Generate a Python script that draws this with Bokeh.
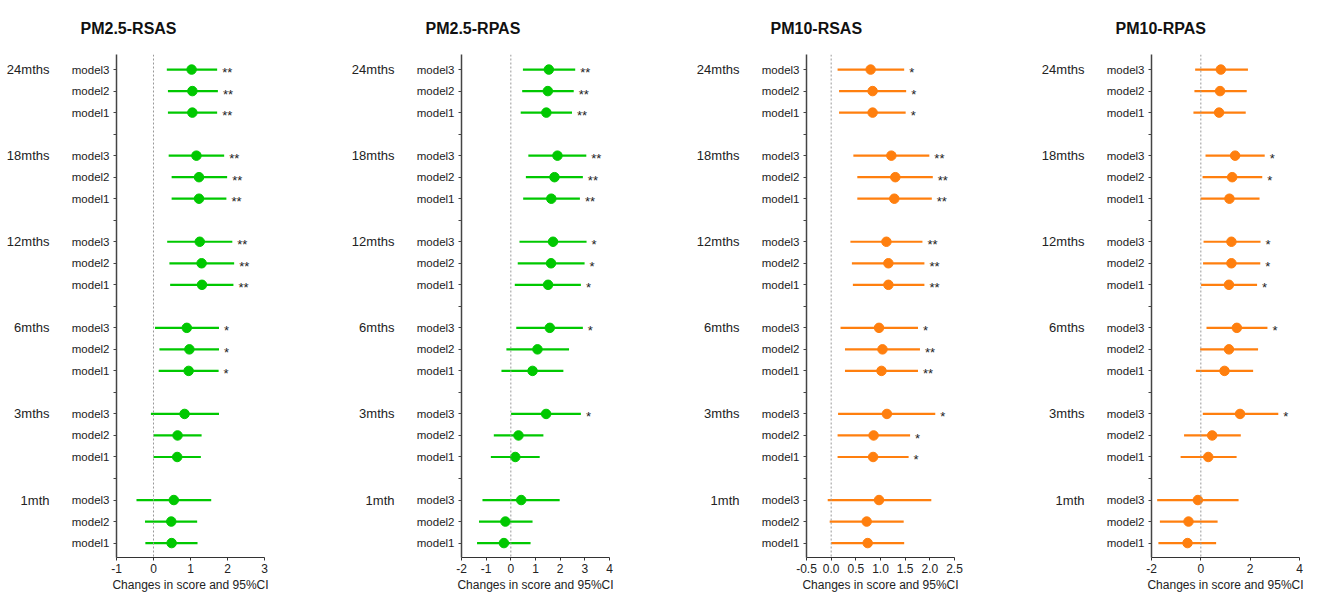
from bokeh.plotting import figure
from bokeh.layouts import row
from bokeh.models import FixedTicker, LinearAxis, Span, ColumnDataSource, Range1d
from bokeh.embed import file_html
from bokeh.resources import INLINE
from bokeh.core.properties import value

FONT = "Liberation Sans"

groups = ["1mth", "3mths", "6mths", "12mths", "18mths", "24mths"]
models = ["model1", "model2", "model3"]

titles = ["PM2.5-RSAS", "PM2.5-RPAS", "PM10-RSAS", "PM10-RPAS"]
colors = ["#00C800", "#00C800", "#FF7F0E", "#FF7F0E"]

# order: 1mth (model1, model2, model3), 3mths (...), ..., 24mths (...)
est_pm25_rsas = [0.49, 0.48, 0.55, 0.64, 0.65, 0.84, 0.95, 0.97, 0.90,
                 1.31, 1.30, 1.25, 1.23, 1.23, 1.16, 1.05, 1.05, 1.03]
lo_pm25_rsas = [-0.22, -0.23, -0.46, 0.00, 0.00, -0.07, 0.14, 0.16, 0.04,
                0.45, 0.43, 0.37, 0.49, 0.49, 0.41, 0.39, 0.39, 0.36]
hi_pm25_rsas = [1.19, 1.18, 1.56, 1.28, 1.30, 1.77, 1.76, 1.77, 1.77,
                2.16, 2.18, 2.13, 1.97, 1.99, 1.91, 1.72, 1.74, 1.72]
sig_pm25_rsas = ["", "", "", "", "", "", "*", "*", "*",
                 "**", "**", "**", "**", "**", "**", "**", "**", "**"]

est_pm25_rpas = [-0.28, -0.22, 0.42, 0.18, 0.31, 1.43, 0.88, 1.08, 1.58,
                 1.51, 1.63, 1.71, 1.64, 1.77, 1.89, 1.44, 1.50, 1.54]
lo_pm25_rpas = [-1.37, -1.29, -1.15, -0.81, -0.69, 0.01, -0.38, -0.18, 0.22,
                0.16, 0.28, 0.35, 0.50, 0.61, 0.71, 0.40, 0.46, 0.49]
hi_pm25_rpas = [0.80, 0.88, 1.98, 1.17, 1.32, 2.84, 2.13, 2.36, 2.92,
                2.84, 2.99, 3.07, 2.80, 2.92, 3.06, 2.48, 2.55, 2.61]
sig_pm25_rpas = ["", "", "", "", "", "*", "", "", "*",
                 "*", "*", "*", "**", "**", "**", "**", "**", "**"]

est_pm10_rsas = [0.74, 0.72, 0.97, 0.85, 0.86, 1.13, 1.02, 1.04, 0.97,
                 1.16, 1.16, 1.12, 1.28, 1.30, 1.22, 0.84, 0.84, 0.80]
lo_pm10_rsas = [0.00, -0.03, -0.07, 0.13, 0.13, 0.14, 0.28, 0.28, 0.19,
                0.44, 0.42, 0.39, 0.53, 0.53, 0.45, 0.16, 0.16, 0.13]
hi_pm10_rsas = [1.48, 1.47, 2.03, 1.57, 1.60, 2.11, 1.76, 1.80, 1.76,
                1.89, 1.89, 1.85, 2.04, 2.06, 1.99, 1.51, 1.52, 1.48]
sig_pm10_rsas = ["", "", "", "*", "*", "*", "**", "**", "*",
                 "**", "**", "**", "**", "**", "**", "*", "*", "*"]

est_pm10_rpas = [-0.54, -0.50, -0.12, 0.30, 0.46, 1.59, 0.96, 1.14, 1.46,
                 1.14, 1.24, 1.24, 1.16, 1.27, 1.39, 0.74, 0.78, 0.81]
lo_pm10_rpas = [-1.72, -1.66, -1.77, -0.82, -0.68, 0.08, -0.20, -0.03, 0.23,
                0.01, 0.09, 0.11, -0.01, 0.07, 0.19, -0.30, -0.26, -0.23]
hi_pm10_rpas = [0.62, 0.68, 1.53, 1.45, 1.62, 3.14, 2.12, 2.32, 2.70,
                2.28, 2.41, 2.42, 2.38, 2.49, 2.59, 1.82, 1.86, 1.91]
sig_pm10_rpas = ["", "", "", "", "", "*", "", "", "*",
                 "*", "*", "*", "", "*", "*", "", "", ""]

x_ticks = [[-1, 0, 1, 2, 3],
           [-2, -1, 0, 1, 2, 3, 4],
           [-0.5, 0, 0.5, 1, 1.5, 2, 2.5],
           [-2, 0, 2, 4]]
x_tick_labels = [["-1", "0", "1", "2", "3"],
                 ["-2", "-1", "0", "1", "2", "3", "4"],
                 ["-0.5", "0.0", "0.5", "1.0", "1.5", "2.0", "2.5"],
                 ["-2", "0", "2", "4"]]
x_label = "Changes in score and 95%CI"

panels = [
    (est_pm25_rsas, lo_pm25_rsas, hi_pm25_rsas, sig_pm25_rsas),
    (est_pm25_rpas, lo_pm25_rpas, hi_pm25_rpas, sig_pm25_rpas),
    (est_pm10_rsas, lo_pm10_rsas, hi_pm10_rsas, sig_pm10_rsas),
    (est_pm10_rpas, lo_pm10_rpas, hi_pm10_rpas, sig_pm10_rpas),
]

# row positions: each group takes 3 rows + 1 gap
ypos = []
row_labels = {}
for gi, g in enumerate(groups):
    for mi, m in enumerate(models):
        y = gi * 4 + mi + 1
        ypos.append(y)
        row_labels[y] = m
all_ticks = list(range(1, 24))
overrides = {t: row_labels.get(t, "") for t in all_ticks}
group_ticks = [gi * 4 + 3 for gi in range(len(groups))]
group_overrides = {t: g for t, g in zip(group_ticks, groups)}

LEFT = 116
FRAME_W = 148
figs = []
for i in range(4):
    est, lo, hi, sig = panels[i]
    xt = x_ticks[i]
    width = 345 if i < 3 else 282
    right = width - LEFT - FRAME_W
    p = figure(width=width, height=594, output_backend="svg", toolbar_location=None,
               x_range=Range1d(xt[0], xt[-1]), y_range=Range1d(0.33, 23.7),
               min_border_left=LEFT, min_border_right=right, min_border_top=54,
               min_border_bottom=37)
    p.outline_line_color = None
    p.xgrid.visible = False
    p.ygrid.visible = False
    p.background_fill_color = "white"
    p.border_fill_color = "white"

    # title
    p.title.text = titles[i]
    p.title.text_font = FONT
    p.title.text_font_size = "16px"
    p.title.text_font_style = "bold"
    p.title.text_color = "#111111"
    p.title.align = "left"
    p.title.offset = -36
    p.title.standoff = 35

    # zero line
    p.add_layout(Span(location=0, dimension="height", line_color="#999999",
                      line_width=1, line_dash="2 2"))

    src = ColumnDataSource(dict(y=ypos, est=est, lo=lo, hi=hi, sig=sig))
    p.segment(x0="lo", y0="y", x1="hi", y1="y", source=src,
              line_color=colors[i], line_width=2.2)
    p.scatter(x="est", y="y", source=src, size=9.5, marker="circle",
              fill_color=colors[i], line_color=colors[i])
    p.text(x="hi", y="y", text="sig", source=src, x_offset=5, y_offset=3,
           text_font=value(FONT), text_font_size="13px", text_color="#222222",
           text_align="left", text_baseline="middle")

    # x axis
    xa = p.xaxis[0]
    xa.ticker = FixedTicker(ticks=xt)
    xa.major_label_overrides = {t: l for t, l in zip(xt, x_tick_labels[i])}
    xa.minor_tick_line_color = None
    xa.major_tick_in = 0
    xa.major_tick_out = 3
    xa.axis_line_color = "#333333"
    xa.major_tick_line_color = "#333333"
    xa.major_label_text_font = FONT
    xa.major_label_text_font_size = "12px"
    xa.major_label_text_color = "#222222"
    xa.major_label_standoff = 3
    xa.axis_label = x_label
    xa.axis_label_text_font = FONT
    xa.axis_label_text_font_size = "12px"
    xa.axis_label_text_font_style = "normal"
    xa.axis_label_text_color = "#222222"
    xa.axis_label_standoff = 2

    # y axis (model labels)
    ya = p.yaxis[0]
    ya.ticker = FixedTicker(ticks=all_ticks)
    ya.major_label_overrides = overrides
    ya.minor_tick_line_color = None
    ya.major_tick_in = 0
    ya.major_tick_out = 3
    ya.axis_line_color = "#444444"
    ya.axis_line_width = 1.5
    ya.major_tick_line_color = "#444444"
    ya.major_label_text_font = FONT
    ya.major_label_text_font_size = "11.5px"
    ya.major_label_text_color = "#222222"
    ya.major_label_standoff = 4

    # group labels axis
    ga = LinearAxis(ticker=FixedTicker(ticks=group_ticks),
                    major_label_overrides=group_overrides)
    ga.axis_line_color = None
    ga.major_tick_line_color = None
    ga.minor_tick_line_color = None
    ga.major_tick_out = 0
    ga.major_tick_in = 0
    ga.major_label_standoff = 19
    ga.major_label_text_font = FONT
    ga.major_label_text_font_size = "13px"
    ga.major_label_text_color = "#222222"
    p.add_layout(ga, "left")

    figs.append(p)

layout = row(*figs)
open("out.html", "w").write(file_html(layout, INLINE))
